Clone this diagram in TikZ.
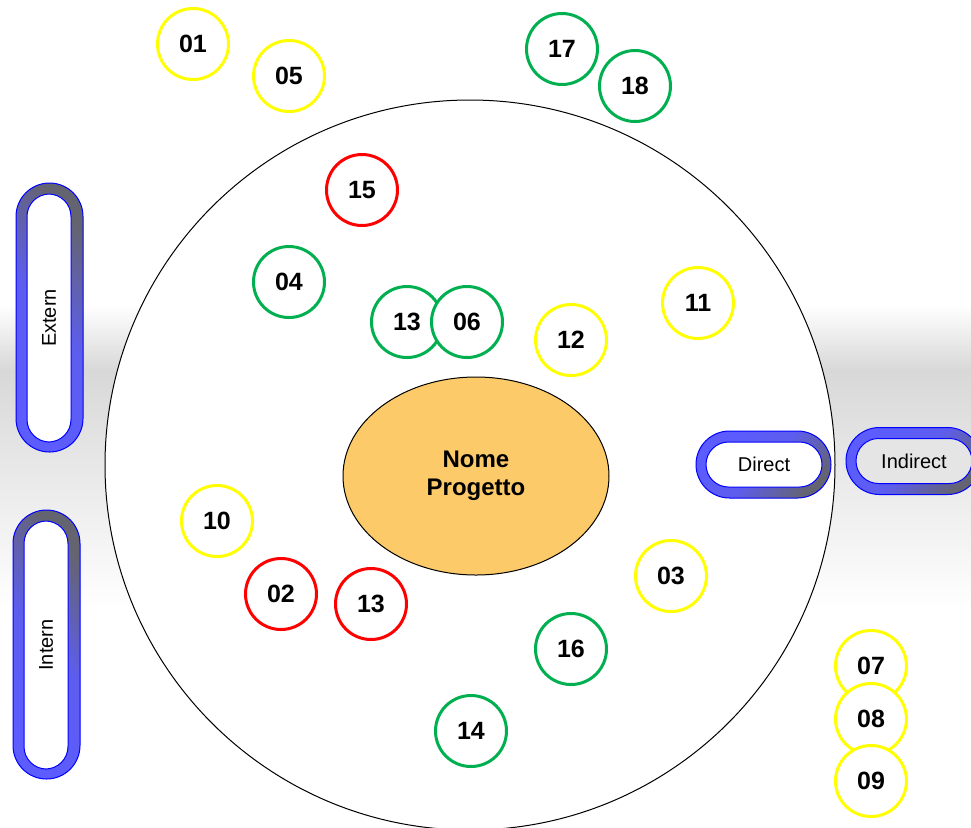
\documentclass[tikz,border=0pt]{standalone}
\usepackage{fontspec}
\setmainfont{Liberation Sans}
\usetikzlibrary{shapes}
\definecolor{pgreen}{RGB}{0,176,80}
\definecolor{pyellow}{RGB}{255,255,0}
\definecolor{pred}{RGB}{255,0,0}
\definecolor{porange}{RGB}{253,202,105}
\definecolor{pblue}{RGB}{92,92,255}
\definecolor{pgray}{RGB}{100,100,112}
\definecolor{band}{RGB}{216,216,216}
\tikzstyle{num} = [circle, draw, fill=white, line width=1.5pt, minimum size=35.5pt, inner sep=0pt, font=\bfseries\fontsize{12.5}{14}\selectfont]
\tikzstyle{yel} = [num, draw=pyellow]
\tikzstyle{grn} = [num, draw=pgreen]
\tikzstyle{rd} = [num, draw=pred]
\tikzstyle{pillh} = [rectangle, draw=blue, line width=0.5pt, minimum width=67.5pt, minimum height=33.5pt, rounded corners=16.75pt, top color=pblue, bottom color=pgray, middle color=pblue!88!pgray, shading angle=45]
\tikzstyle{pillv} = [rectangle, draw=blue, line width=0.5pt, minimum width=33.5pt, minimum height=134.5pt, rounded corners=16.75pt, top color=pgray, bottom color=pblue, middle color=pblue!88!pgray, shading angle=-50]
\tikzstyle{pillin} = [rectangle, draw=blue, fill=white, line width=0.5pt, rounded corners=11.25pt, inner sep=0pt, font=\fontsize{10}{12}\selectfont]

\begin{document}
\begin{tikzpicture}[x=0.5pt, y=-0.5pt]
    \useasboundingbox (0,0) rectangle (971,827);
    \clip (0,0) rectangle (971,827);
    % grey band behind
    \fill[top color=white, bottom color=band] (0,305) rectangle (971,370);
    \fill[top color=band, bottom color=white] (0,370) rectangle (971,610);

    \node [circle, draw, fill=white, line width=0.5pt, minimum size=365pt] (ring) at (470,465) {};
    \node [ellipse, draw, fill=porange, line width=0.5pt, minimum width=133pt, minimum height=99pt, align=center, font=\bfseries\fontsize{12}{14}\selectfont] (nome) at (476,476) {Nome\\Progetto};

    % numbered circles
    \node [yel] (n01) at (193,44) {01};
    \node [yel] (n05) at (289,76) {05};
    \node [grn] (n17) at (562,49) {17};
    \node [grn] (n18) at (635,86) {18};
    \node [rd] (n15) at (362,190) {15};
    \node [grn] (n04) at (289,282) {04};
    \node [grn] (n13a) at (407,322) {13};
    \node [grn] (n06) at (467,322) {06};
    \node [yel] (n12) at (571,340) {12};
    \node [yel] (n11) at (698,303) {11};
    \node [yel] (n10) at (217,521) {10};
    \node [rd] (n02) at (281,594) {02};
    \node [rd] (n13b) at (371,604) {13};
    \node [yel] (n03) at (671,576) {03};
    \node [grn] (n16) at (571,649) {16};
    \node [grn] (n14) at (471,731) {14};
    \node [yel] (n07) at (871,666) {07};
    \node [yel] (n08) at (871,719) {08};
    \node [yel] (n09) at (871,781) {09};

    % pills
    \node [pillv] (externbox) at (49.5,317.5) {};
    \node [pillin, rotate=90, minimum width=124pt, minimum height=22pt] (extern) at (49,318) {Extern};
    \node [pillv] (internbox) at (46.5,644.5) {};
    \node [pillin, rotate=90, minimum width=124pt, minimum height=22pt] (intern) at (46,645) {Intern};
    \node [pillh] (directbox) at (763.5,464.5) {};
    \node [pillin, minimum width=58pt, minimum height=22.5pt] (direct) at (764,464.5) {Direct};
    \node [pillh] (indirectbox) at (913.5,461) {};
    \node [pillin, fill=black!10, minimum width=58pt, minimum height=22.5pt] (indirect) at (914,461) {Indirect};
\end{tikzpicture}
\end{document}
